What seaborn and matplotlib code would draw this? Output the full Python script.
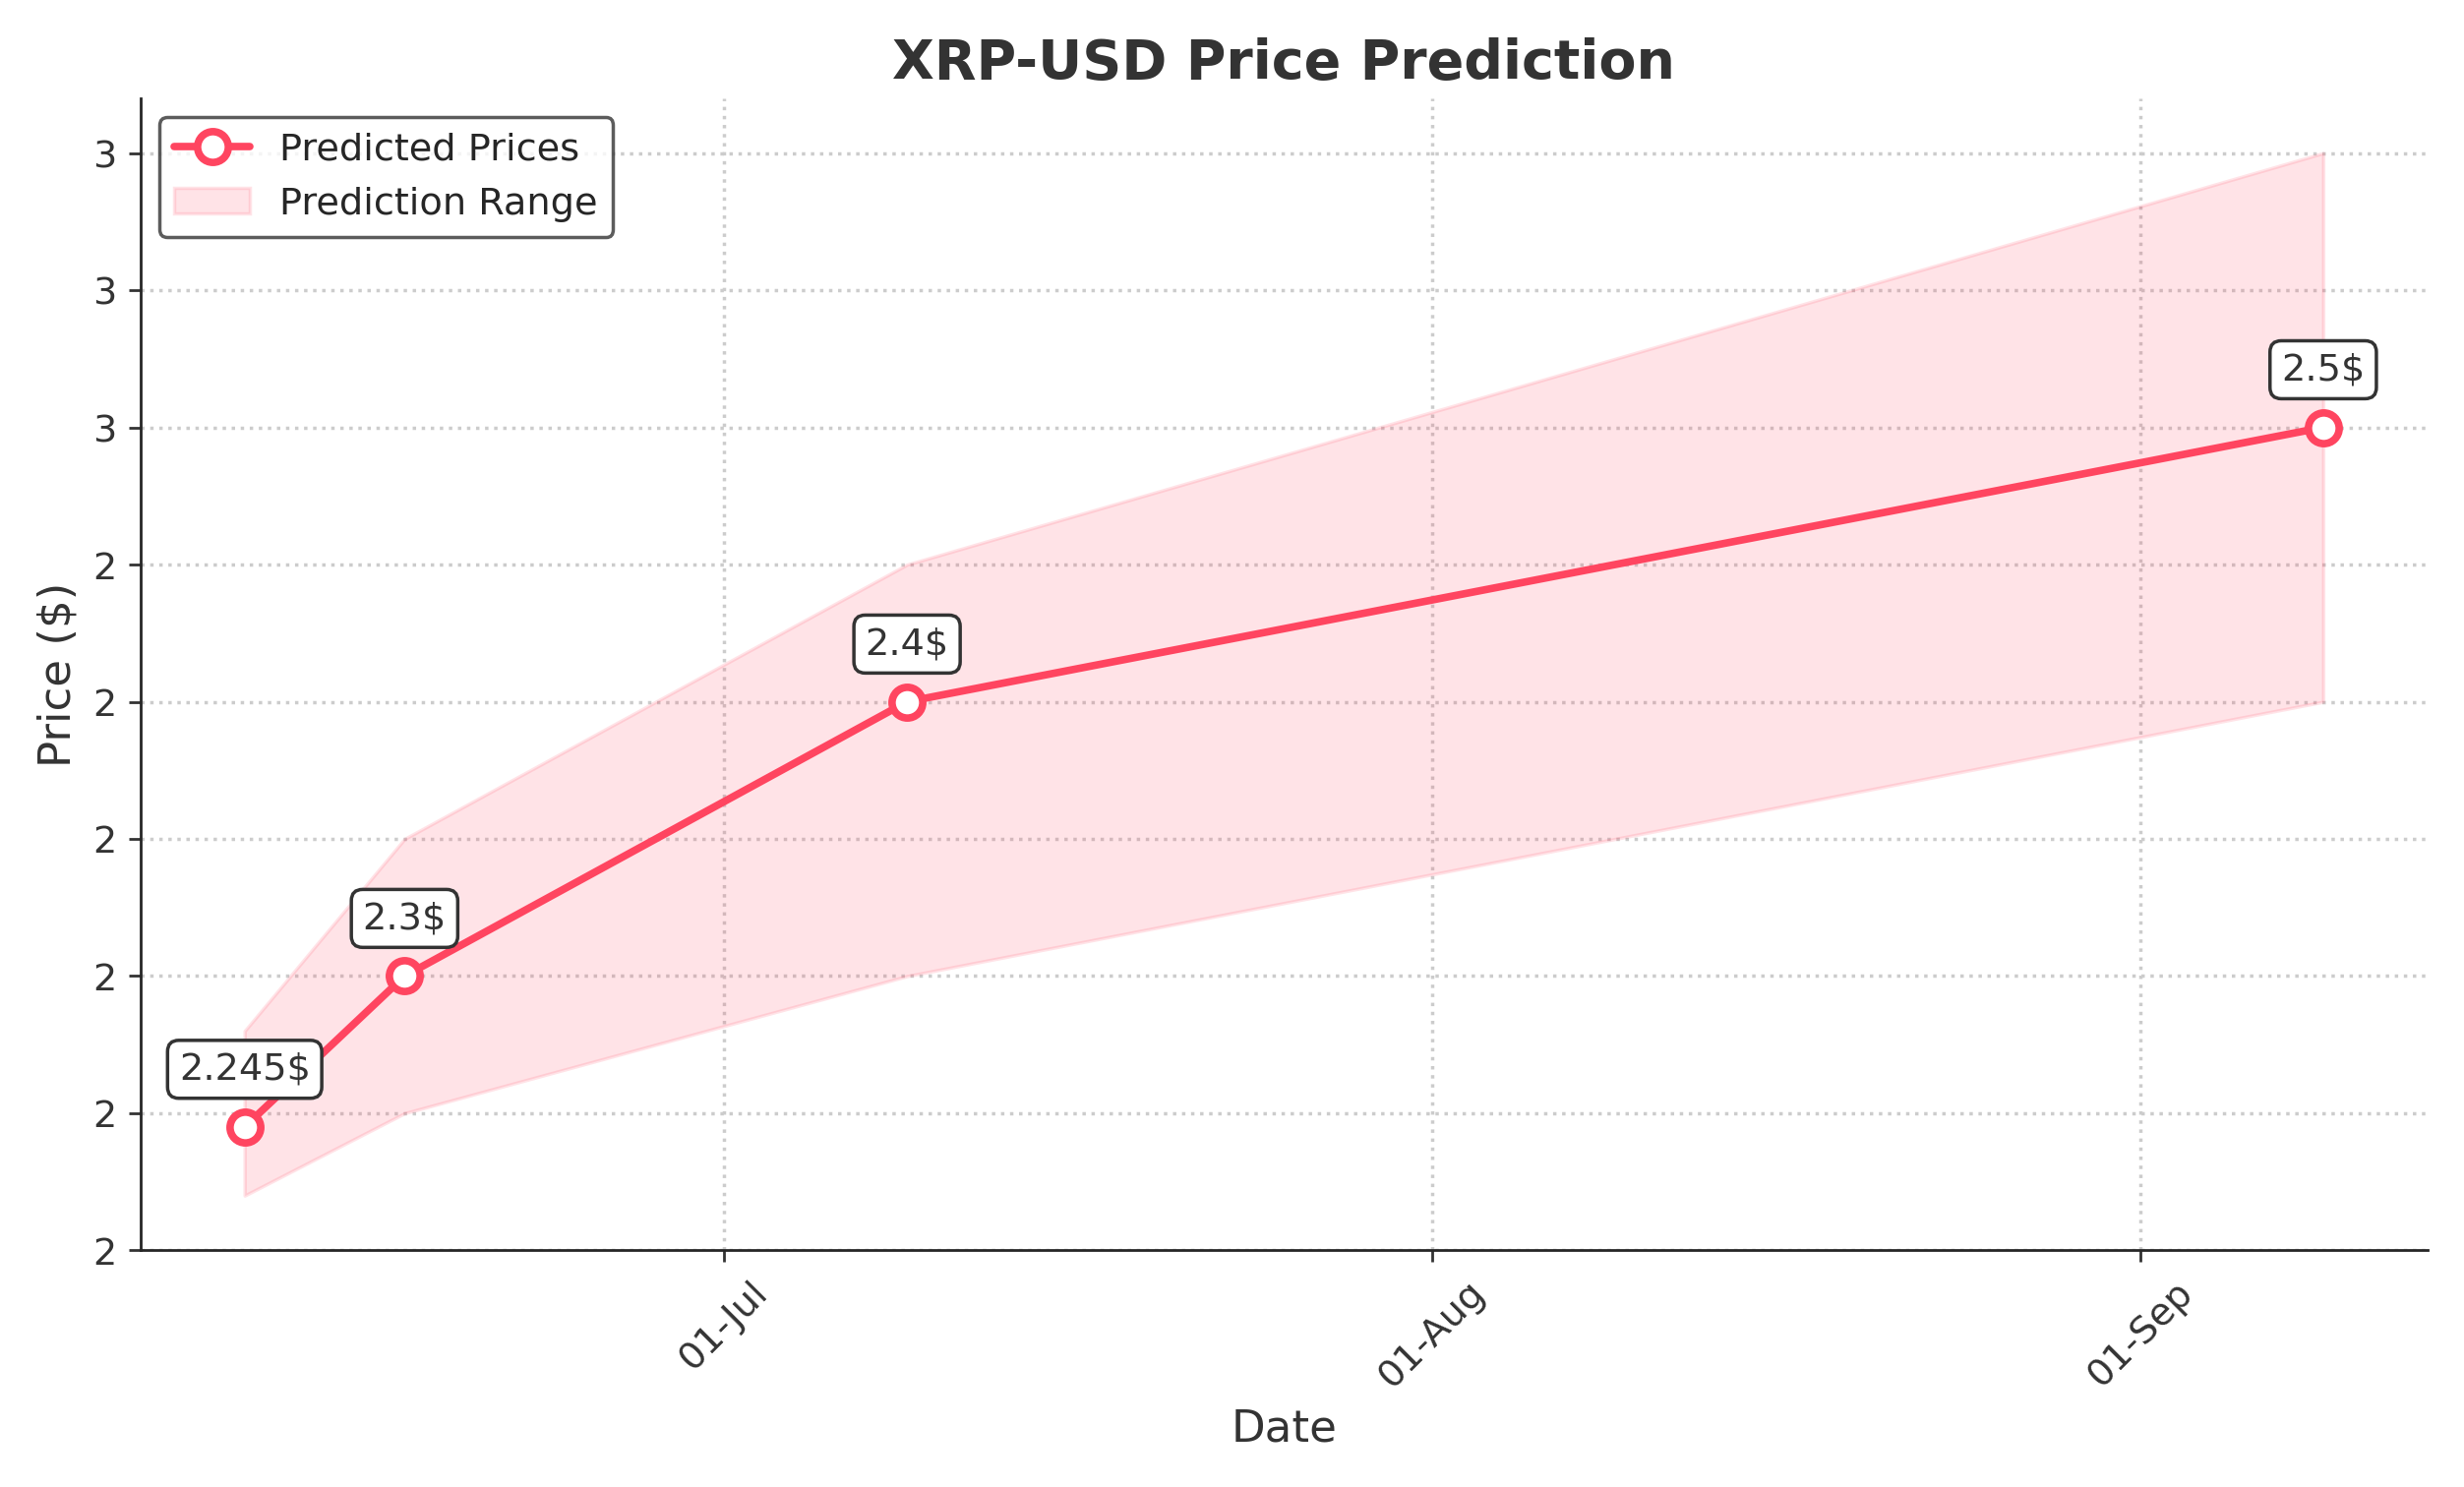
import pandas as pd
import matplotlib.pyplot as plt
import matplotlib.dates as mdates
import matplotlib.ticker as mticker
import seaborn as sns

dates = pd.to_datetime(['2025-06-10', '2025-06-17', '2025-07-09', '2025-09-09'])
prices = [2.245, 2.3, 2.4, 2.5]
lower = [2.22, 2.25, 2.3, 2.4]
upper = [2.28, 2.35, 2.45, 2.6]
labels = ['2.245$', '2.3$', '2.4$', '2.5$']

sns.set_style('ticks')
plt.rcParams['font.family'] = ['DejaVu Sans']
color = '#FF4560'

fig, ax = plt.subplots(figsize=(10.02, 6.05), dpi=250)
df = pd.DataFrame({'Date': dates, 'Price': prices})
sns.lineplot(data=df, x='Date', y='Price', ax=ax, color=color, lw=2.2, marker='o',
             markersize=9, markerfacecolor='white', markeredgecolor=color,
             markeredgewidth=2.2, label='Predicted Prices')
ax.fill_between(dates, lower, upper, color=color, alpha=0.15, label='Prediction Range')

for d, p, t in zip(dates, prices, labels):
    ax.annotate(t, (d, p), xytext=(0, 14), textcoords='offset points', ha='center',
                fontsize=11, color='#333333',
                bbox=dict(boxstyle='round,pad=0.3', fc='white', ec='#333333', lw=1))

ax.set_title('XRP-USD Price Prediction', fontsize=16, fontweight='bold', color='#333333')
ax.set_xlabel('Date', fontsize=13, color='#333333')
ax.set_ylabel('Price ($)', fontsize=13, color='#333333')
ax.xaxis.set_major_locator(mdates.MonthLocator())
ax.xaxis.set_major_formatter(mdates.DateFormatter('%d-%b'))
ax.yaxis.set_major_locator(mticker.MultipleLocator(0.05))
ax.yaxis.set_major_formatter(mticker.FormatStrFormatter('%.0f'))
ax.set_ylim(2.2, 2.62)
plt.setp(ax.get_xticklabels(), rotation=45)
ax.tick_params(labelsize=11, colors='#333333')
ax.grid(True, linestyle=':', color='#cccccc', lw=1)
sns.despine(ax=ax)
ax.legend(loc='upper left', fontsize=11, edgecolor='#333333')
fig.tight_layout()
fig.savefig('out.png', dpi=250)
